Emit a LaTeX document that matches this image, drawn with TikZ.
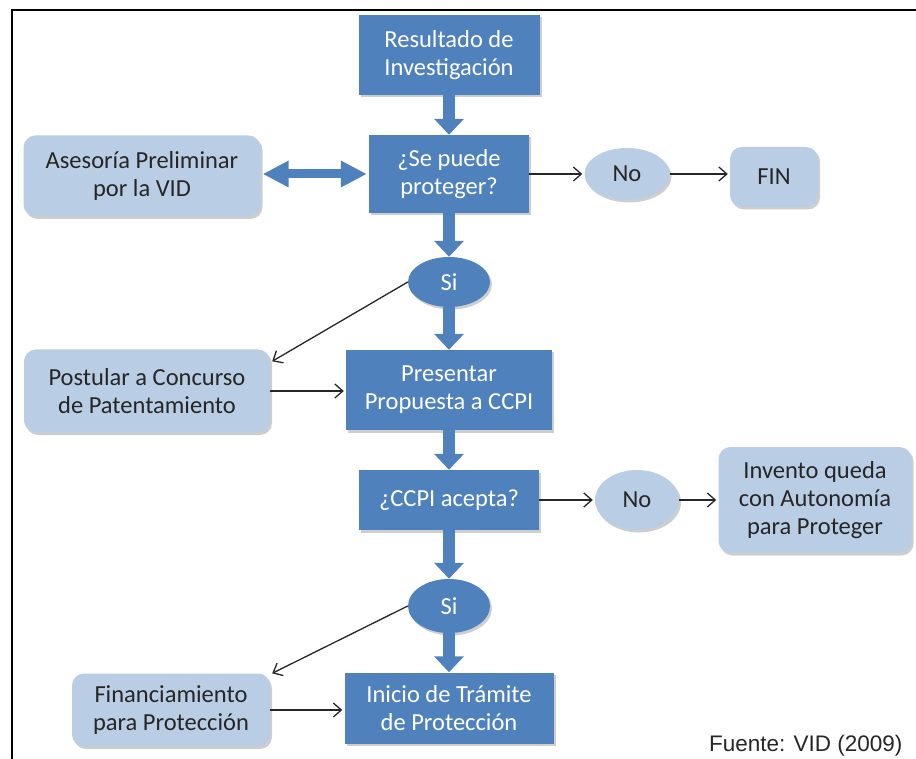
\documentclass[tikz,border=0pt]{standalone}
\usepackage{fontspec}
\setmainfont{Carlito}
\newfontfamily\notefont{Liberation Sans}
\usetikzlibrary{arrows.meta,shapes.geometric,shadows,calc}

\definecolor{darkblue}{HTML}{4F81BD}
\definecolor{lightblue}{HTML}{B9CDE5}
\definecolor{lighttext}{HTML}{262626}

\tikzset{
  boxshadow/.style={drop shadow={shadow xshift=2pt,shadow yshift=-2.5pt,opacity=0.35,fill=black!55}},
  boxfont/.style={font=\fontsize{24.5}{28}\selectfont},
  darkbox/.style={rectangle,fill=darkblue,text=white,align=center,boxfont,inner sep=0pt,boxshadow},
  lightbox/.style={rectangle,rounded corners=12pt,fill=lightblue,text=lighttext,align=center,
    boxfont,inner sep=0pt,boxshadow},
  darkoval/.style={ellipse,fill=darkblue,text=white,boxfont,inner sep=0pt,boxshadow},
  lightoval/.style={ellipse,fill=lightblue,text=lighttext,boxfont,inner sep=0pt,boxshadow},
  bigarrow/.style={draw=darkblue,line width=12pt,-{Triangle[width=29pt,length=16pt]}},
  bigdouble/.style={draw=darkblue,line width=9pt,{Triangle[width=25pt,length=26pt]}-{Triangle[width=25pt,length=26pt]}},
  thinarrow/.style={draw=black!85,line width=1.3pt,-{Straight Barb[length=8pt,width=14pt]}},
  framerule/.style={draw=black,line width=2pt}
}

\begin{document}
\begin{tikzpicture}[x=1pt,y=-1pt]
  \useasboundingbox (0,0) rectangle (916,759);

  % outer frame (left and top rules)
  \coordinate (ftop) at (916,10);
  \coordinate (fcorner) at (12,10);
  \coordinate (fbottom) at (12,759);
  \draw[framerule] (ftop) -- (fcorner) -- (fbottom);

  % main column
  \node[darkbox,minimum width=181pt,minimum height=80pt] (res) at (449,55) {Resultado de\\Investigación};
  \node[darkbox,minimum width=160pt,minimum height=78pt] (sep) at (449,174) {¿Se puede\\proteger?};
  \node[darkoval,minimum width=82pt,minimum height=50pt] (si1) at (449,282) {Si};
  \node[darkbox,minimum width=206pt,minimum height=80pt] (pre) at (449,390) {Presentar\\Propuesta a CCPI};
  \node[darkbox,minimum width=180pt,minimum height=60pt] (ccpi) at (449,500) {¿CCPI acepta?};
  \node[darkoval,minimum width=82pt,minimum height=54pt] (si2) at (449,606) {Si};
  \node[darkbox,minimum width=209pt,minimum height=71pt] (ini) at (449,708) {Inicio de Trámite\\de Protección};

  % side boxes
  \node[lightbox,minimum width=237pt,minimum height=81pt] (ase) at (142,176) {Asesoría Preliminar\\por la VID};
  \node[lightoval,minimum width=85pt,minimum height=52pt] (no1) at (627,174) {No};
  \node[lightbox,minimum width=88pt,minimum height=60pt] (fin) at (774,177) {FIN};
  \node[lightbox,minimum width=246pt,minimum height=83pt] (pos) at (147,391) {Postular a Concurso\\de Patentamiento};
  \node[lightoval,minimum width=84pt,minimum height=60pt] (no2) at (637,500) {No};
  \node[lightbox,minimum width=193pt,minimum height=106pt] (inv) at (815,500) {Invento queda\\con Autonomía\\para Proteger};
  \node[lightbox,minimum width=198pt,minimum height=73pt] (fin2) at (171,710) {Financiamiento\\para Protección};

  % source note
  \node[font=\notefont\fontsize{22.5}{26}\selectfont,text=black!85,anchor=base east] (src) at (906,751) {Fuente: VID (2009)};

  % block arrows along the main column
  \draw[bigarrow] (res.south) -- (sep.north);
  \draw[bigarrow] (sep.south) -- (si1.north);
  \draw[bigarrow] (si1.south) -- (pre.north);
  \draw[bigarrow] (pre.south) -- (ccpi.north);
  \draw[bigarrow] (ccpi.south) -- (si2.north);
  \draw[bigarrow] (si2.south) -- (ini.north);

  % two-way link with the advisory box
  \draw[bigdouble,shorten <=2pt,shorten >=2pt] (ase.east |- sep.west) -- (sep.west);

  % thin connectors
  \draw[thinarrow,shorten >=2pt] (sep.east) -- (no1.west);
  \draw[thinarrow,shorten >=2pt] (no1.east) -- (fin.west |- no1.east);
  \draw[thinarrow] (si1.west) -- ([xshift=2pt,yshift=-12pt]pos.north east);
  \draw[thinarrow,shorten >=2pt] (pos.east) -- (pre.west |- pos.east);
  \draw[thinarrow,shorten >=2pt] (ccpi.east) -- (no2.west);
  \draw[thinarrow,shorten >=2pt] (no2.east) -- (inv.west |- no2.east);
  \draw[thinarrow] (si2.west) -- ([xshift=2pt]fin2.north east);
  \draw[thinarrow,shorten >=2pt] (fin2.east) -- (ini.west |- fin2.east);
\end{tikzpicture}
\end{document}
